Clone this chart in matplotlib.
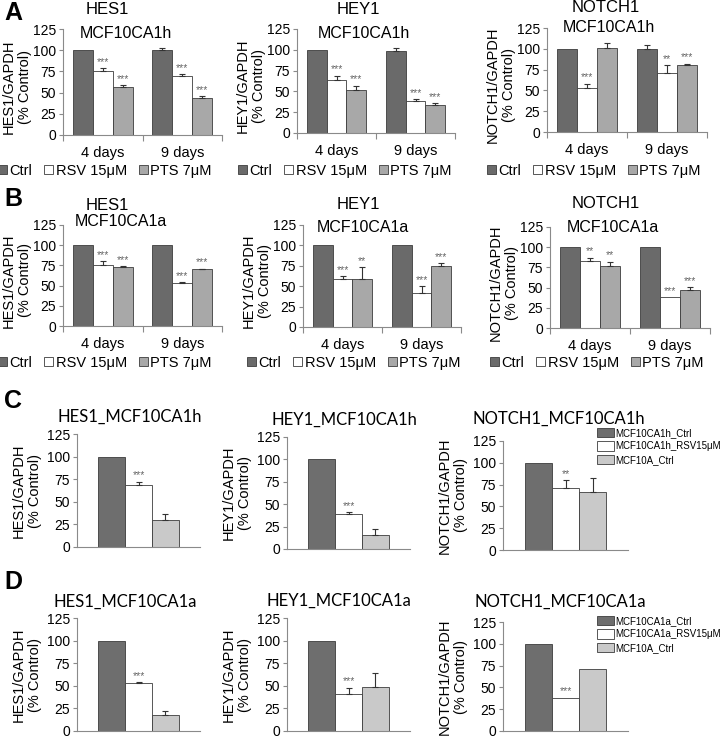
import numpy as np
import matplotlib
matplotlib.use('Agg')
import matplotlib.pyplot as plt
from matplotlib.patches import Patch

plt.rcParams['font.family'] = ['Liberation Sans', 'DejaVu Sans']

# ---------------------------------------------------------------- data
days = ['4 days', '9 days']
ab_series = ['Ctrl', 'RSV 15μM', 'PTS 7μM']

# panel A (MCF10CA1h), rows = days, cols = Ctrl / RSV / PTS
a_hes1 = [[100, 75, 57], [100, 69, 44]]
a_hes1_err = [[0, 4, 2], [3, 3, 2]]
a_hes1_sig = [['', '***', '***'], ['', '***', '***']]
a_hey1 = [[100, 64, 52], [99, 39, 34]]
a_hey1_err = [[0, 5, 5], [3, 2, 2]]
a_hey1_sig = [['', '***', '***'], ['', '***', '***']]
a_notch1 = [[100, 53, 101], [100, 71, 81]]
a_notch1_err = [[0, 5, 6], [4, 9, 1]]
a_notch1_sig = [['', '***', ''], ['', '**', '***']]

# panel B (MCF10CA1a)
b_hes1 = [[100, 76, 73], [100, 53, 70]]
b_hes1_err = [[0, 4, 1], [0, 1, 1]]
b_hes1_sig = [['', '***', '***'], ['', '***', '***']]
b_hey1 = [[100, 59, 59], [100, 42, 75]]
b_hey1_err = [[0, 3, 14], [0, 8, 3]]
b_hey1_sig = [['', '***', '**'], ['', '***', '***']]
b_notch1 = [[100, 83, 77], [100, 38, 47]]
b_notch1_err = [[0, 4, 5], [0, 0, 4]]
b_notch1_sig = [['', '**', '**'], ['', '***', '***']]

# panels C / D
c_series = ['MCF10CA1h_Ctrl', 'MCF10CA1h_RSV15μM', 'MCF10A_Ctrl']
d_series = ['MCF10CA1a_Ctrl', 'MCF10CA1a_RSV15μM', 'MCF10A_Ctrl']
c_hes1 = [100, 69, 30]
c_hes1_err = [0, 3, 7]
c_hey1 = [100, 39, 16]
c_hey1_err = [0, 2, 6]
c_notch1 = [100, 71, 67]
c_notch1_err = [0, 9, 15]
c_sig = ['', '***', '']
c_notch1_sig = ['', '**', '']
d_hes1 = [100, 53, 18]
d_hes1_err = [0, 1, 4]
d_hey1 = [100, 41, 49]
d_hey1_err = [0, 7, 15]
d_notch1 = [100, 38, 71]
d_notch1_err = [0, 0, 0]
d_sig = ['', '***', '']

# ---------------------------------------------------------------- style
W, H = 721, 739
ab_colors = ['#6a6a6a', '#ffffff', '#a8a8a8']
cd_colors = ['#6e6e6e', '#ffffff', '#c9c9c9']
edge = '#3c3c3c'
spine_c = '#8a8a8a'

fig = plt.figure(figsize=(W / 100, H / 100), dpi=100)


def box(x0, x1, y0, y1):
    return fig.add_axes([x0 / W, 1 - y1 / H, (x1 - x0) / W, (y1 - y0) / H])


def ftxt(x, y, s, **kw):
    fig.text(x / W, 1 - y / H, s, **kw)


def style_axis(ax):
    for s in ['top', 'right']:
        ax.spines[s].set_visible(False)
    for s in ['left', 'bottom']:
        ax.spines[s].set_color(spine_c)
        ax.spines[s].set_linewidth(0.8)
    ax.set_ylim(0, 125)
    ax.set_yticks([0, 25, 50, 75, 100, 125])
    ax.tick_params(axis='y', length=3, width=0.8, color=spine_c, labelsize=10, pad=2)


def add_err(ax, x, v, e, sig, fs=7.5):
    if e > 0:
        ax.errorbar(x, v, yerr=[[0], [e]], fmt='none', ecolor='#333333',
                    elinewidth=0.8, capsize=2.5, capthick=0.8)
    if sig:
        ax.text(x, v + e + 1.5, sig, ha='center', va='bottom', fontsize=fs, color='#666666')


def grouped(ax, vals, errs, sigs):
    bw = 0.25
    for i in range(3):
        xs = np.arange(2) + (i - 1) * bw
        hs = [vals[g][i] for g in range(2)]
        ax.bar(xs, hs, bw, color=ab_colors[i], edgecolor=edge, linewidth=0.6)
        for g in range(2):
            add_err(ax, xs[g], vals[g][i], errs[g][i], sigs[g][i])
    style_axis(ax)
    ax.set_xlim(-0.5, 1.5)
    ax.set_xticks([0, 1])
    ax.set_xticklabels(days, fontsize=10.5)
    ax.set_xticks([-0.5, 0.5, 1.5], minor=True)
    ax.tick_params(axis='x', which='major', length=0, pad=8)
    ax.tick_params(axis='x', which='minor', length=4, width=0.8, color=spine_c)


def single(ax, vals, errs, sigs):
    bw = 0.217
    xs = np.array([-1, 0, 1]) * bw
    ax.bar(xs, vals, bw, color=cd_colors, edgecolor=edge, linewidth=0.6)
    for i in range(3):
        add_err(ax, xs[i], vals[i], errs[i], sigs[i])
    style_axis(ax)
    ax.set_xlim(-0.5, 0.5)
    ax.set_xticks([])


def ab_legend(ax, cx, cy):
    hs = [Patch(facecolor=c, edgecolor=edge, linewidth=0.6) for c in ab_colors]
    ax.legend(hs, ab_series, loc='center', bbox_to_anchor=(cx / W, 1 - cy / H),
              bbox_transform=fig.transFigure, ncol=3, frameon=False, fontsize=10.5,
              handlelength=0.6, handleheight=0.6, handletextpad=0.2,
              columnspacing=0.8, borderpad=0)


def cd_legend(ax, labels, x, y):
    hs = [Patch(facecolor=c, edgecolor=edge, linewidth=0.6) for c in cd_colors]
    ax.legend(hs, labels, loc='upper left', bbox_to_anchor=(x / W, 1 - y / H),
              bbox_transform=fig.transFigure, frameon=False, fontsize=7,
              handlelength=1.7, handleheight=1.1, handletextpad=0.15,
              labelspacing=0.35, borderpad=0, borderaxespad=0)


def ylab(x, yc, gene):
    ftxt(x, yc, gene + '/GAPDH\n(% Control)', rotation=90, ha='center',
         va='center', fontsize=10.5, linespacing=1.15)


# ---------------------------------------------------------------- panels A / B
ab_rows = [
    # axes box, data, title pos, MCF pos, legend pos
    ((63, 222, 29, 135), a_hes1, a_hes1_err, a_hes1_sig, 'HES1', (107, 10), (80, 33), 'MCF10CA1h', (105, 171)),
    ((297, 455, 29, 133), a_hey1, a_hey1_err, a_hey1_sig, 'HEY1', (358, 10), (318, 33), 'MCF10CA1h', (345, 171)),
    ((547, 707, 28, 132), a_notch1, a_notch1_err, a_notch1_sig, 'NOTCH1', (606, 8), (563, 28), 'MCF10CA1h', (594, 171)),
    ((63, 222, 225, 326), b_hes1, b_hes1_err, b_hes1_sig, 'HES1', (107, 205), (75, 222), 'MCF10CA1a', (105, 363)),
    ((303, 461, 225, 327), b_hey1, b_hey1_err, b_hey1_sig, 'HEY1', (358, 204), (317, 227), 'MCF10CA1a', (354, 363)),
    ((550, 710, 227, 328), b_notch1, b_notch1_err, b_notch1_sig, 'NOTCH1', (606, 203), (567, 227), 'MCF10CA1a', (597, 363)),
]

for (bx, vals, errs, sigs, gene, tpos, mpos, cell, lpos) in ab_rows:
    ax = box(*bx)
    grouped(ax, vals, errs, sigs)
    ftxt(tpos[0], tpos[1], gene, ha='center', va='center', fontsize=12)
    ftxt(mpos[0], mpos[1], cell, ha='left', va='center', fontsize=11.5)
    ylab(bx[0] - 46, (bx[2] + bx[3]) / 2 + 5, gene)
    ab_legend(ax, *lpos)

# ---------------------------------------------------------------- panels C / D
cd_rows = [
    ((77, 200, 434, 547), c_hes1, c_hes1_err, c_sig, 'HES1', 'HES1_MCF10CA1h', (130, 417)),
    ((287, 410, 437, 549), c_hey1, c_hey1_err, c_sig, 'HEY1', 'HEY1_MCF10CA1h', (344, 420)),
    ((503, 628, 441, 550), c_notch1, c_notch1_err, c_notch1_sig, 'NOTCH1', 'NOTCH1_MCF10CA1h', (559, 419)),
    ((77, 200, 618, 731), d_hes1, d_hes1_err, d_sig, 'HES1', 'HES1_MCF10CA1a', (125, 602)),
    ((287, 410, 618, 731), d_hey1, d_hey1_err, d_sig, 'HEY1', 'HEY1_MCF10CA1a', (339, 601)),
    ((503, 628, 622, 731), d_notch1, d_notch1_err, d_sig, 'NOTCH1', 'NOTCH1_MCF10CA1a', (560, 602)),
]

cd_axes = []
for (bx, vals, errs, sigs, gene, title, tpos) in cd_rows:
    ax = box(*bx)
    single(ax, vals, errs, sigs)
    ftxt(tpos[0], tpos[1], title, ha='center', va='center', fontsize=12,
         family=['Lato', 'DejaVu Sans'])
    ylab(bx[0] - 50, (bx[2] + bx[3]) / 2, gene)
    cd_axes.append(ax)

cd_legend(cd_axes[2], c_series, 597, 428)
cd_legend(cd_axes[5], d_series, 597, 616)

# panel letters
for letter, (lx, ly) in zip('ABCD', [(13, 13), (13, 199), (13, 401), (13, 582)]):
    ftxt(lx, ly, letter, ha='center', va='center', fontsize=18, fontweight='bold')

fig.savefig('out.png', dpi=100)
